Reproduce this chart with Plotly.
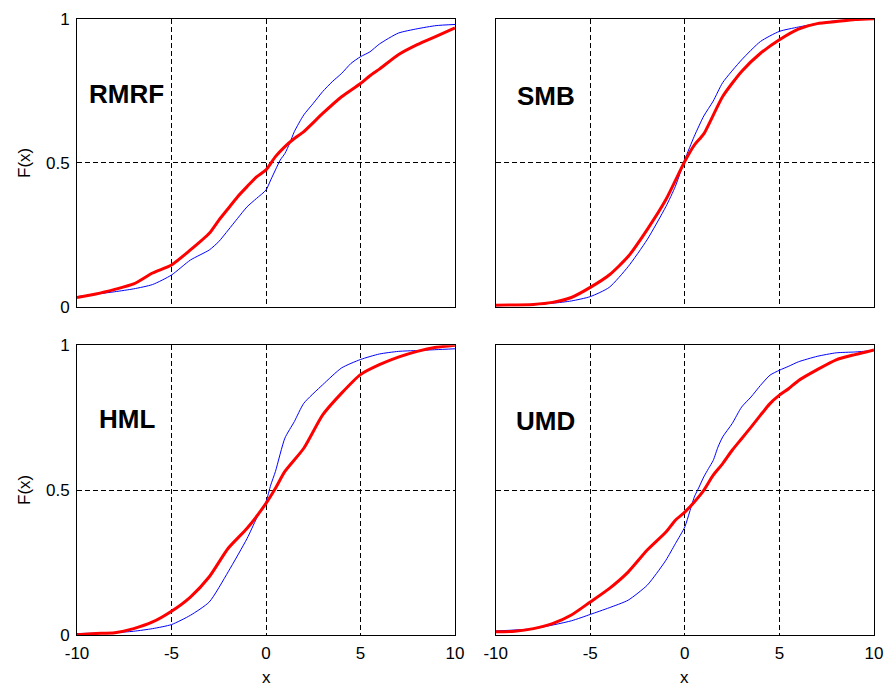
import plotly.graph_objects as go

# ---- data ----
panel_names = ["RMRF", "SMB", "HML", "UMD"]

rmrf_red_x = [-10, -9, -8, -7, -6, -5, -4, -3, -2.5, -2, -1.5, -1, -0.5, 0, 0.5, 1, 1.5, 2, 3, 4, 5, 5.5, 6, 7, 8, 9, 10]
rmrf_red_y = [0.032, 0.044, 0.06, 0.079, 0.117, 0.145, 0.197, 0.255, 0.30, 0.341, 0.382, 0.417, 0.451, 0.475, 0.521, 0.556, 0.584, 0.608, 0.671, 0.729, 0.775, 0.802, 0.825, 0.875, 0.910, 0.939, 0.968]
rmrf_blue_x = [-10, -8, -7, -6, -5, -4, -3, -2.5, -2, -1.5, -1, -0.5, 0, 0.25, 0.5, 0.75, 1, 1.25, 1.5, 2, 2.5, 3, 3.5, 4, 4.5, 5, 5.5, 6, 7, 8, 9, 10]
rmrf_blue_y = [0.035, 0.052, 0.062, 0.077, 0.11, 0.162, 0.197, 0.226, 0.266, 0.307, 0.347, 0.376, 0.405, 0.44, 0.475, 0.509, 0.532, 0.567, 0.608, 0.666, 0.706, 0.747, 0.781, 0.81, 0.845, 0.868, 0.885, 0.912, 0.95, 0.965, 0.976, 0.98]

smb_red_x = [-10, -8, -7, -6, -5, -4, -3, -2, -1, 0, 0.5, 1, 2, 3, 4, 5, 6, 7, 8, 9, 10]
smb_red_y = [0.005, 0.008, 0.015, 0.032, 0.067, 0.11, 0.174, 0.267, 0.372, 0.505, 0.561, 0.60, 0.73, 0.817, 0.88, 0.927, 0.964, 0.983, 0.99, 0.997, 1.0]
smb_blue_x = [-10, -7, -6, -5, -4, -3, -2, -1, -0.5, 0, 0.5, 1, 1.5, 2, 3, 4, 5, 6, 7, 8, 10]
smb_blue_y = [0.003, 0.012, 0.02, 0.035, 0.067, 0.139, 0.232, 0.348, 0.418, 0.511, 0.592, 0.662, 0.714, 0.778, 0.857, 0.921, 0.956, 0.971, 0.983, 0.993, 0.999]

hml_red_x = [-10, -9, -8, -7, -6, -5, -4, -3, -2, -1, 0, 0.5, 1, 2, 3, 4, 5, 6, 7, 8, 9, 10]
hml_red_y = [0.002, 0.006, 0.009, 0.023, 0.046, 0.083, 0.132, 0.202, 0.30, 0.369, 0.455, 0.507, 0.565, 0.645, 0.76, 0.835, 0.899, 0.933, 0.959, 0.979, 0.993, 1.0]
hml_blue_x = [-10, -8, -7, -6, -5, -4, -3, -2, -1, -0.5, 0, 0.25, 0.5, 1, 1.5, 2, 3, 4, 5, 6, 7, 8, 9, 10]
hml_blue_y = [0.006, 0.009, 0.014, 0.023, 0.037, 0.069, 0.115, 0.219, 0.334, 0.403, 0.461, 0.518, 0.565, 0.68, 0.737, 0.80, 0.864, 0.922, 0.951, 0.97, 0.979, 0.982, 0.985, 0.988]

umd_red_x = [-10, -9, -8, -7, -6, -5, -4, -3, -2, -1, -0.5, 0, 0.5, 1, 1.5, 2, 2.5, 3, 3.5, 4, 4.5, 5, 5.5, 6, 7, 8, 9, 10]
umd_red_y = [0.012, 0.014, 0.023, 0.04, 0.07, 0.115, 0.161, 0.218, 0.293, 0.356, 0.397, 0.425, 0.46, 0.50, 0.552, 0.592, 0.638, 0.678, 0.718, 0.759, 0.799, 0.828, 0.851, 0.878, 0.916, 0.95, 0.968, 0.984]
umd_blue_x = [-10, -8, -6, -5, -4, -3, -2, -1.5, -1, -0.5, 0, 0.25, 0.5, 0.75, 1, 1.25, 1.5, 1.75, 2, 2.5, 3, 3.5, 4, 4.5, 5, 5.5, 6, 7, 8, 9, 10]
umd_blue_y = [0.015, 0.023, 0.05, 0.072, 0.095, 0.121, 0.172, 0.213, 0.259, 0.316, 0.374, 0.425, 0.477, 0.511, 0.546, 0.575, 0.603, 0.649, 0.684, 0.73, 0.787, 0.822, 0.862, 0.897, 0.914, 0.928, 0.943, 0.962, 0.974, 0.977, 0.982]

x_ticks = [-10, -5, 0, 5, 10]
x_tick_text = ["-10", "-5", "0", "5", "10"]
y_ticks = [0, 0.5, 1]
y_tick_text = ["0", "0.5", "1"]

label_pos = [(-9.47, 0.74), (-9.0, 0.733), (-8.93, 0.747), (-9.05, 0.739)]

series = [
    (rmrf_blue_x, rmrf_blue_y, rmrf_red_x, rmrf_red_y),
    (smb_blue_x, smb_blue_y, smb_red_x, smb_red_y),
    (hml_blue_x, hml_blue_y, hml_red_x, hml_red_y),
    (umd_blue_x, umd_blue_y, umd_red_x, umd_red_y),
]

W, H = 886, 686
xdoms = [(77 / W, 455 / W), (495.7 / W, 874 / W)]
ydoms = [((H - 306.7) / H, (H - 18.7) / H), ((H - 635.3) / H, (H - 345.3) / H)]

FONT = "Liberation Sans, Arial, sans-serif"
FS = 17
fig = go.Figure()
layout = dict(
    width=W, height=H, margin=dict(l=0, r=0, t=0, b=0, autoexpand=False),
    paper_bgcolor="white", plot_bgcolor="white", showlegend=False,
    font=dict(family=FONT, size=FS, color="black"),
)
annotations = []
for i in range(4):
    r, c = divmod(i, 2)
    k = "" if i == 0 else str(i + 1)
    xa, ya = "x" + k, "y" + k
    bx, by, rx, ry = series[i]
    fig.add_trace(go.Scatter(x=bx, y=by, mode="lines",
                             line=dict(color="blue", width=1, shape="spline", smoothing=0.6),
                             xaxis=xa, yaxis=ya, hoverinfo="skip"))
    fig.add_trace(go.Scatter(x=rx, y=ry, mode="lines",
                             line=dict(color="red", width=3, shape="spline", smoothing=0.6),
                             xaxis=xa, yaxis=ya, hoverinfo="skip"))
    common = dict(showline=True, linecolor="black", linewidth=1, mirror=True,
                  showgrid=True, gridcolor="black", gridwidth=1, griddash="5px,3px",
                  zeroline=False, ticks="", automargin=False,
                  tickfont=dict(family=FONT, size=FS, color="black"),
                  fixedrange=True)
    layout["xaxis" + k] = dict(common, domain=list(xdoms[c]), range=[-10, 10], anchor=ya,
                               tickvals=x_ticks, ticktext=x_tick_text,
                               showticklabels=(r == 1), ticklabelstandoff=2)
    layout["yaxis" + k] = dict(common, domain=list(ydoms[r]), range=[0, 1], anchor=xa,
                               tickvals=y_ticks, ticktext=y_tick_text,
                               showticklabels=(c == 0), ticklabelstandoff=3)
    lx, ly = label_pos[i]
    annotations.append(dict(x=lx, y=ly, xref=xa, yref=ya, text="<b>" + panel_names[i] + "</b>",
                            showarrow=False, xanchor="left", yanchor="middle",
                            font=dict(family=FONT, size=26, color="black")))

for yc in (163, 490):
    annotations.append(dict(x=24 / W, y=1 - yc / H, xref="paper", yref="paper", text="F(x)",
                            textangle=-90, showarrow=False, xanchor="center", yanchor="middle",
                            font=dict(family=FONT, size=FS, color="black")))
for xc in (266, 684):
    annotations.append(dict(x=xc / W, y=1 - 677 / H, xref="paper", yref="paper", text="x",
                            showarrow=False, xanchor="center", yanchor="middle",
                            font=dict(family=FONT, size=FS, color="black")))
layout["annotations"] = annotations
fig.update_layout(**layout)
fig.write_html("out.html")
